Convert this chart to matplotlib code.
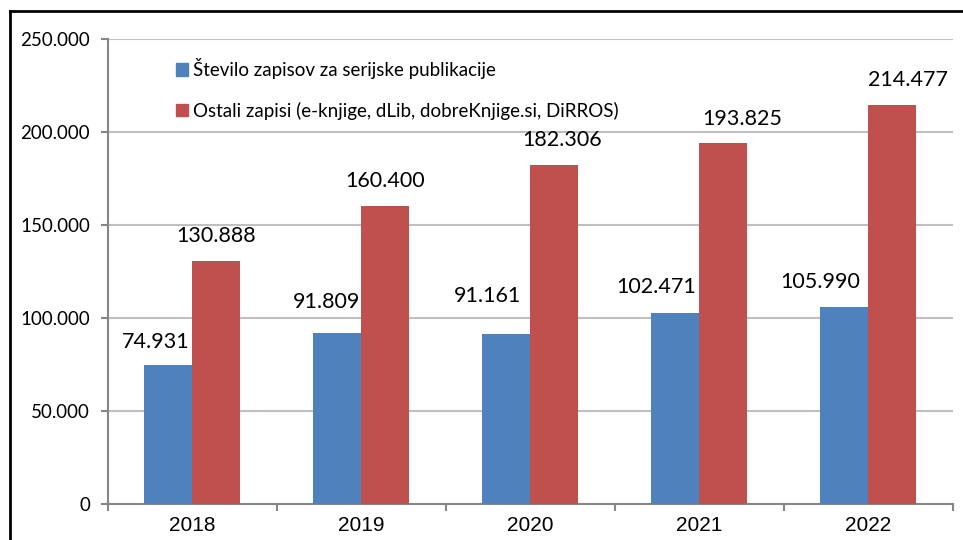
import matplotlib
matplotlib.use("Agg")
from matplotlib import pyplot as plt
from matplotlib.patches import Patch
from matplotlib.lines import Line2D
import numpy as np

years = ["2018", "2019", "2020", "2021", "2022"]
serijske = [74931, 91809, 91161, 102471, 105990]
ostali = [130888, 160400, 182306, 193825, 214477]
labels = ["Število zapisov za serijske publikacije",
          "Ostali zapisi (e-knjige, dLib, dobreKnjige.si, DiRROS)"]

# label nudges in pixels (the source labels were moved by hand)
serijske_dx = [-13, -11, -19, -19, -24]
serijske_dy = [17, 25, 32, 20, 19]
ostali_dx = [0, 0, 8, 19, 16]
ostali_dy = [19, 19, 19, 18, 19]

blue = "#4f81bd"
red = "#c0504d"
axis_gray = "#868686"
grid_gray = "#c0c0c0"


def fmt(v):
    # thousands separator with a dot, like the source
    return "{:,}".format(v).replace(",", ".")


fig = plt.figure(figsize=(9.63, 5.4), dpi=100)
ax = fig.add_axes([0.1121, 0.0667, 0.8775, 0.8611])

x = np.arange(len(years))
w = 0.284
b1 = ax.bar(x - w / 2, serijske, w, color=blue, zorder=3)
b2 = ax.bar(x + w / 2, ostali, w, color=red, zorder=3)

for bars, vals, dxs, dys in [(b1, serijske, serijske_dx, serijske_dy),
                             (b2, ostali, ostali_dx, ostali_dy)]:
    for rect, v, dx, dy in zip(bars, vals, dxs, dys):
        ax.annotate(fmt(v), (rect.get_x() + rect.get_width() / 2, v),
                    xytext=(dx, dy), textcoords="offset pixels",
                    ha="center", va="baseline", fontsize=15.5, family="Lato",
                    zorder=4)

ax.set_xlim(-0.5, len(years) - 0.5)
ax.set_ylim(0, 250000)
ax.set_yticks(range(0, 250001, 50000))
ax.set_yticklabels([fmt(v) for v in range(0, 250001, 50000)],
                   fontsize=13.5, family="Lato")
ax.set_xticks(x)
ax.set_xticklabels(years, fontsize=15, family="Liberation Sans")
ax.set_xticks(np.arange(-0.5, len(years)), minor=True)
ax.tick_params(axis="x", which="major", length=0, pad=9)
ax.tick_params(axis="x", which="minor", length=5, color=axis_gray, width=1.5)
ax.tick_params(axis="y", length=5, color=axis_gray, width=1.5, pad=8)

ax.yaxis.grid(True, color=grid_gray, linewidth=1.5, zorder=0)
for s in ["top", "right"]:
    ax.spines[s].set_visible(False)
for s in ["left", "bottom"]:
    ax.spines[s].set_color(axis_gray)
    ax.spines[s].set_linewidth(1.5)

handles = [Patch(color=blue), Patch(color=red)]
ax.legend(handles, labels, loc="upper left", bbox_to_anchor=(0.060, 0.995),
          frameon=False, handlelength=0.64, handleheight=0.64,
          handletextpad=0.3, labelspacing=1.2,
          prop={"family": "Lato", "size": 13.5})

# outer chart border
fig.add_artist(Line2D([0.0104, 0.0104], [0.0, 0.9796], color="black", lw=2))
fig.add_artist(Line2D([0.0104, 1.0], [0.9796, 0.9796], color="black", lw=2))

fig.savefig("out.png", dpi=100)
